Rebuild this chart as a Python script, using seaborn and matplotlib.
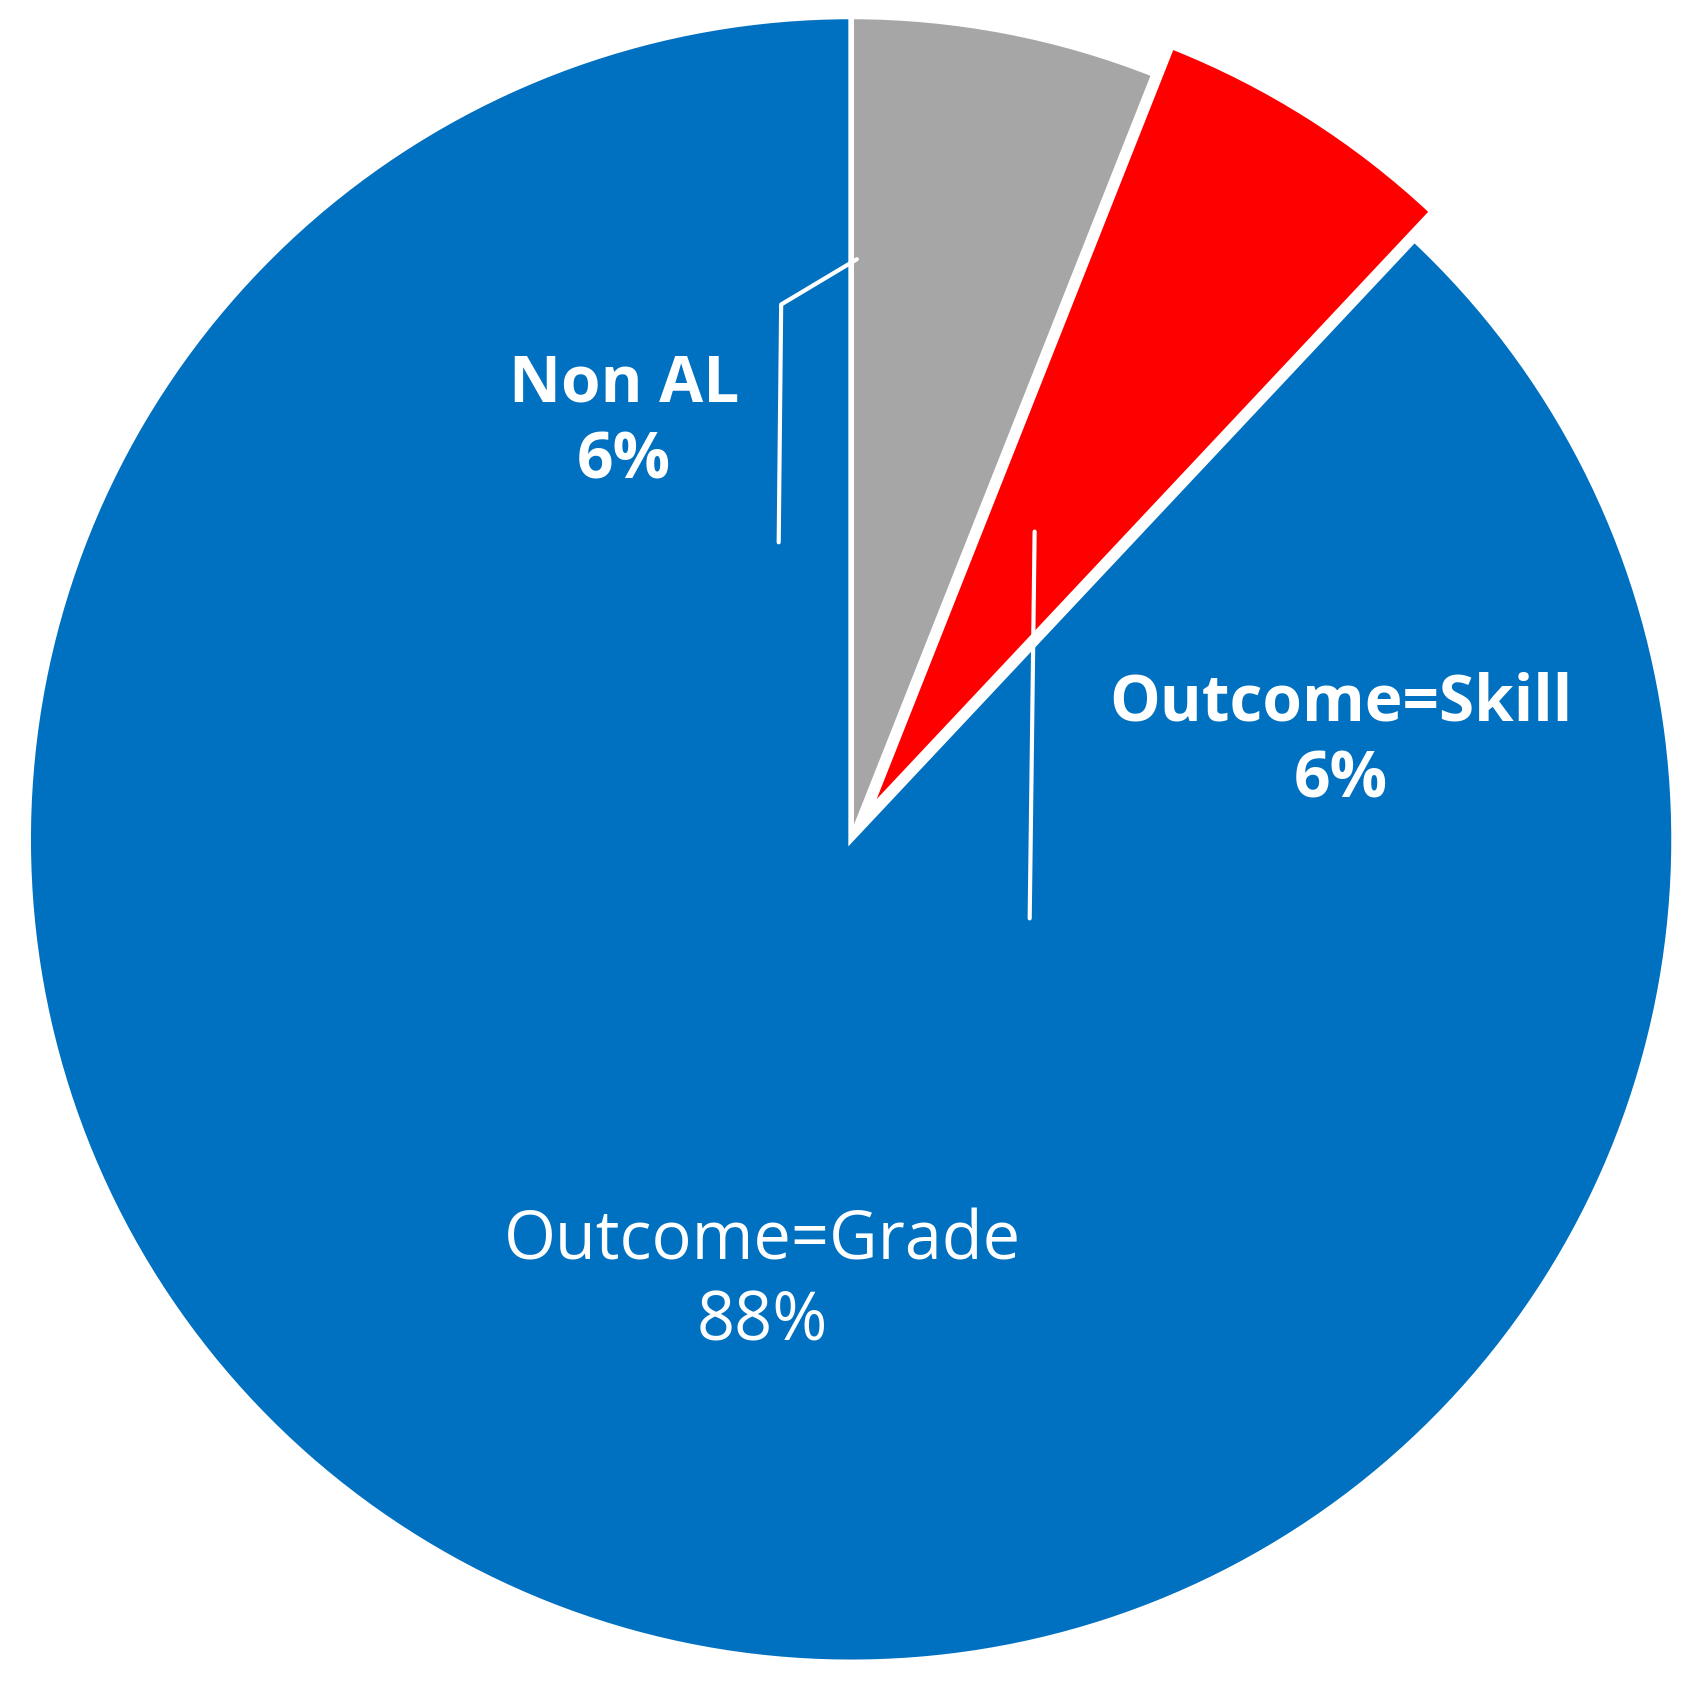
import matplotlib
matplotlib.use("Agg")
import matplotlib.pyplot as plt
import seaborn as sns

sns.set_theme(style="white")
plt.rcParams['font.family'] = ['Open Sans', 'DejaVu Sans']

categories = ["Non AL", "Outcome=Skill", "Outcome=Grade"]
values = [6, 6, 88]
colors = ["#A6A6A6", "#FF0000", "#0070C0"]

fig = plt.figure(figsize=(16.94, 16.87), dpi=100)
ax = fig.add_axes([0, 0, 1, 1])
ax.pie(values, colors=colors, startangle=90, counterclock=False,
       explode=[0, 0.04, 0], radius=1.0,
       wedgeprops=dict(edgecolor="white", linewidth=4))
ax.set_xlim(-1.03, 1.02)
ax.set_ylim(-1.03, 1.02)
ax.set_aspect("equal")
ax.axis("off")

# leader lines
ax.plot([0.007, -0.085, -0.088], [0.705, 0.65, 0.361], color="white", lw=3)
ax.plot([0.223, 0.217], [0.374, -0.096], color="white", lw=3)

ax.text(-0.276, 0.505, f"{categories[0]}\n{values[0]}%", color="white",
        fontsize=46, fontweight="bold", ha="center", va="center", linespacing=1.25)
ax.text(0.595, 0.118, f"{categories[1]}\n{values[1]}%", color="white",
        fontsize=46, fontweight="bold", ha="center", va="center", linespacing=1.25)
ax.text(-0.108, -0.538, f"{categories[2]}\n{values[2]}%", color="white",
        fontsize=48, ha="center", va="center", linespacing=1.25)

fig.savefig("out.png", dpi=100)
